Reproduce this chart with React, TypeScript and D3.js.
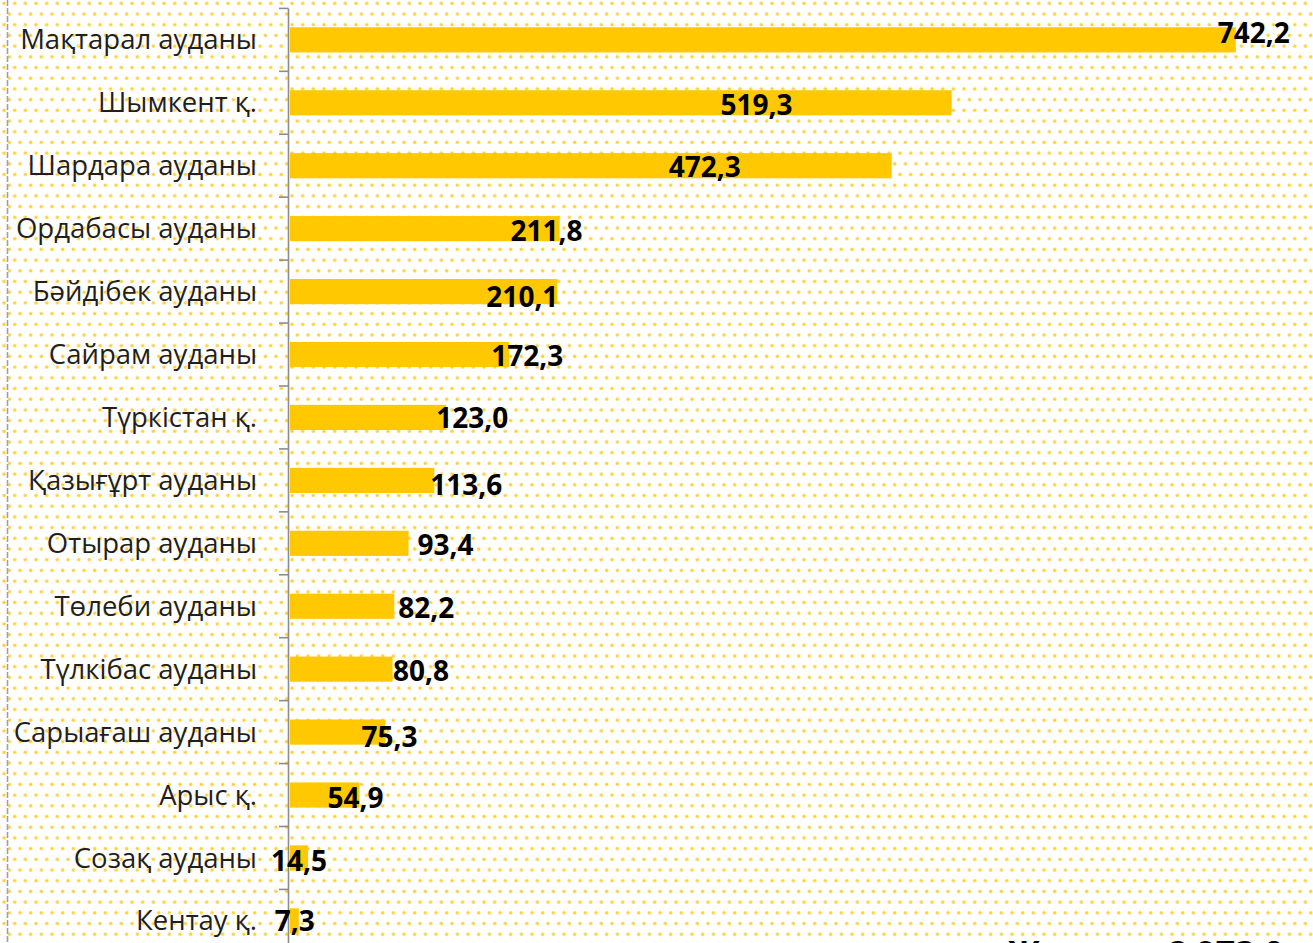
import React from "react";
import * as d3 from "d3";

const categories = [
  "Мақтарал ауданы",
  "Шымкент қ.",
  "Шардара ауданы",
  "Ордабасы ауданы",
  "Бәйдібек ауданы",
  "Сайрам ауданы",
  "Түркістан қ.",
  "Қазығұрт ауданы",
  "Отырар ауданы",
  "Төлеби ауданы",
  "Түлкібас ауданы",
  "Сарыағаш ауданы",
  "Арыс қ.",
  "Созақ ауданы",
  "Кентау қ.",
];

const values = [742.2, 519.3, 472.3, 211.8, 210.1, 172.3, 123.0, 113.6, 93.4, 82.2, 80.8, 75.3, 54.9, 14.5, 7.3];

// manual label nudges (px) relative to the bar end / bar centre, as in the original
const labelDx = [18, -195, -187, -13, -35, 18, 26, 32, 37, 32, 28.5, 4, -4, -9, -4];
const labelDy = [-7, 2, 1, 2, 5, 1, 1, 5, 2, 2, 2, 5, 3, 3, 0];

const totalLabel = "Жиыны";
const totalValue = "2 973,0";

const W = 1313;
const H = 943;

export default function App() {
  const x = d3.scaleLinear().domain([0, 800]).range([289.5, 289.5 + 800 * 1.275]);
  const y = d3
    .scaleBand<string>()
    .domain(categories)
    .range([8.4, 8.4 + 15 * 62.93])
    .paddingInner(0.6)
    .paddingOuter(0.3);
  const step = y.step();
  const top = 8.4;
  const fmt = (v: number) => d3.format(".1f")(v).replace(".", ",");

  return (
    <svg
      width={W}
      height={H}
      style={{ position: "absolute", left: 0, top: 0, display: "block" }}
      xmlns="http://www.w3.org/2000/svg"
    >
      <defs>
        <radialGradient id="dotg">
          <stop offset="0%" stopColor="#FFC400" stopOpacity={1} />
          <stop offset="60%" stopColor="#FFD23F" stopOpacity={0.8} />
          <stop offset="100%" stopColor="#FFE48A" stopOpacity={0} />
        </radialGradient>
        <pattern id="dots" patternUnits="userSpaceOnUse" width={10.667} height={21.4} x={0} y={0}>
          <circle cx={4} cy={3.3} r={2.4} fill="url(#dotg)" />
          <circle cx={9.33} cy={14} r={2.4} fill="url(#dotg)" />
          <circle cx={-1.33} cy={14} r={2.4} fill="url(#dotg)" />
        </pattern>
      </defs>
      <rect x={0} y={0} width={W} height={H} fill="#ffffff" />
      <rect x={0} y={0} width={W} height={H} fill="url(#dots)" />
      <line x1={7.5} x2={7.5} y1={0} y2={H} stroke="#a0a0a0" strokeWidth={1.6} strokeDasharray="6 2" />

      {/* bars */}
      {categories.map((c, i) => (
        <rect
          key={c}
          x={x(0) + 0.5}
          y={y(c)!}
          width={Math.max(0, x(values[i]) - x(0) - 0.5)}
          height={y.bandwidth()}
          fill="#FFC800"
        />
      ))}

      {/* axis */}
      <line x1={288.5} x2={288.5} y1={top} y2={H + 20} stroke="#8c8c8c" strokeWidth={1.6} />
      {d3.range(categories.length + 1).map((k) => (
        <line
          key={k}
          x1={279}
          x2={288.5}
          y1={top + k * step}
          y2={top + k * step}
          stroke="#8c8c8c"
          strokeWidth={1.6}
        />
      ))}

      {/* category labels */}
      {categories.map((c) => (
        <text
          key={c}
          x={257}
          y={y(c)! + y.bandwidth() / 2 + 9.6}
          textAnchor="end"
          fontFamily="'Open Sans', sans-serif"
          fontSize={27.5}
          fill="#1f1f1f"
        >
          {c}
        </text>
      ))}

      {/* value labels */}
      {categories.map((c, i) => (
        <text
          key={c}
          x={x(values[i]) + labelDx[i]}
          y={y(c)! + y.bandwidth() / 2 + 10 + labelDy[i]}
          textAnchor="middle"
          fontFamily="'Open Sans', sans-serif"
          fontWeight={700}
          fontSize={28}
          fill="#000"
        >
          {fmt(values[i])}
        </text>
      ))}

      {/* total (cut off at the bottom, as in the original) */}
      <text x={1008} y={965} fontFamily="'Open Sans', sans-serif" fontWeight={700} fontSize={34} fill="#000">
        {totalLabel}
      </text>
      <text x={1168} y={965} fontFamily="'Open Sans', sans-serif" fontWeight={700} fontSize={34} fill="#000">
        {totalValue}
      </text>
    </svg>
  );
}
